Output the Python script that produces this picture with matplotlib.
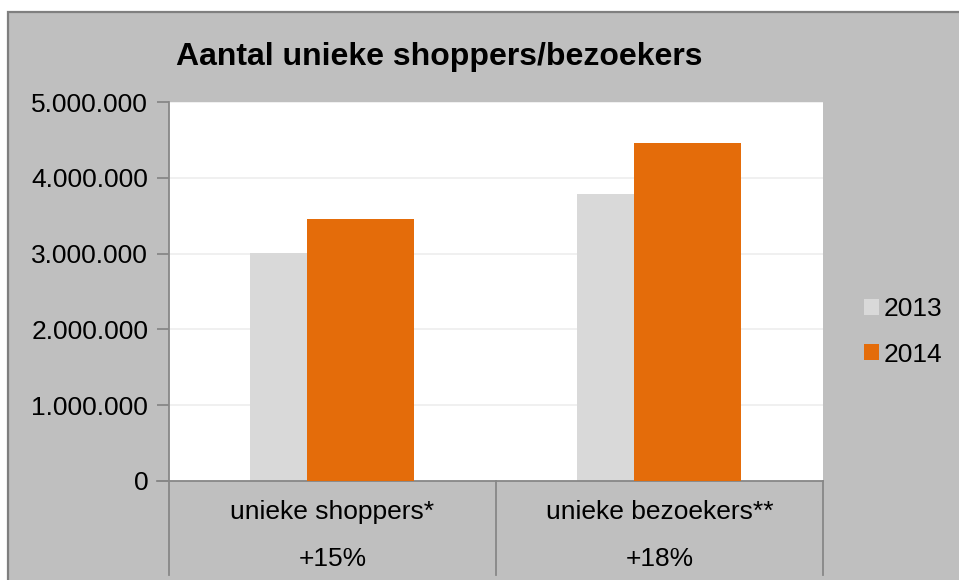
import matplotlib
matplotlib.use("Agg")
import matplotlib.pyplot as plt
import matplotlib.transforms as mtransforms
from matplotlib.patches import Rectangle, Patch
from matplotlib.ticker import FuncFormatter, MultipleLocator

plt.rcParams["font.family"] = ["Liberation Sans", "DejaVu Sans"]

categories = ["unieke shoppers*", "unieke bezoekers**"]
growth     = ["+15%", "+18%"]
years      = ["2013", "2014"]
v2013      = [3010000, 3790000]
v2014      = [3460000, 4460000]

GREY_BG  = "#bfbfbf"
BAR_2013 = "#d9d9d9"
BAR_2014 = "#e46c0a"
AXIS_CLR = "#878787"
FS       = 19

W, H = 959, 580
fig = plt.figure(figsize=(W / 100, H / 100), dpi=100, facecolor="white")

# grey chart area, framed on the left/top; it runs off the right and bottom edges
fig.patches.append(Rectangle((8 / W, -0.1), 1.1, 1.1 - 12 / H, transform=fig.transFigure,
                             facecolor=GREY_BG, edgecolor="#7f7f7f", lw=1.6,
                             zorder=-5))

x0, x1, y_top, y_bot = 169, 823, 102, 481
ax = fig.add_axes([x0 / W, 1 - y_bot / H, (x1 - x0) / W, (y_bot - y_top) / H])
ax.set_facecolor("white")

xs = list(range(len(categories)))
bw = 0.327
ax.bar([x - 0.09 for x in xs], v2013, width=bw, color=BAR_2013, zorder=2, label=years[0])
ax.bar([x + 0.087 for x in xs], v2014, width=bw, color=BAR_2014, zorder=3, label=years[1])

ax.set_xlim(-0.5, len(categories) - 0.5)
ax.set_ylim(0, 5000000)
ax.yaxis.set_major_locator(MultipleLocator(1000000))
ax.yaxis.set_major_formatter(FuncFormatter(lambda v, _: f"{int(v):,}".replace(",", ".")))
ax.grid(axis="y", color="#eeeeee", lw=1.2, zorder=1)
ax.set_axisbelow(True)

for side in ["top", "right"]:
    ax.spines[side].set_visible(False)
for side in ["left", "bottom"]:
    ax.spines[side].set_color(AXIS_CLR)
    ax.spines[side].set_linewidth(1.3)

ax.tick_params(axis="y", direction="out", length=9, width=1.3, color=AXIS_CLR,
               labelsize=FS, pad=6, labelcolor="black")
ax.set_xticks([])

# category table below the axis: dividers plus two text rows
trans = mtransforms.blended_transform_factory(ax.transAxes, fig.transFigure)
for xf in [0, 0.5, 1]:
    ax.plot([xf, xf], [1 - y_bot / H, 1 - 575 / H], transform=trans, color=AXIS_CLR,
            lw=1.3, clip_on=False)
ax.plot([-12 / (x1 - x0), 0], [1 - y_bot / H] * 2, transform=trans, color=AXIS_CLR,
        lw=1.3, clip_on=False)

tdata = mtransforms.blended_transform_factory(ax.transData, fig.transFigure)
for x, cat, g in zip(xs, categories, growth):
    ax.text(x, 1 - 512 / H, cat, transform=tdata, ha="center", va="center", fontsize=FS)
    ax.text(x, 1 - 559 / H, g, transform=tdata, ha="center", va="center", fontsize=FS)

fig.text(439 / W, 1 - 57 / H, "Aantal unieke shoppers/bezoekers", ha="center",
         va="center", fontsize=23, fontweight="bold")

handles = [Patch(facecolor=BAR_2013), Patch(facecolor=BAR_2014)]
fig.legend(handles, years, loc="center left", bbox_to_anchor=(864 / W, 1 - 332 / H),
           frameon=False, fontsize=FS, handlelength=0.55, handleheight=0.55,
           handletextpad=0.2, labelspacing=0.8, borderaxespad=0, borderpad=0)

fig.savefig("out.png", dpi=100, facecolor="white")
